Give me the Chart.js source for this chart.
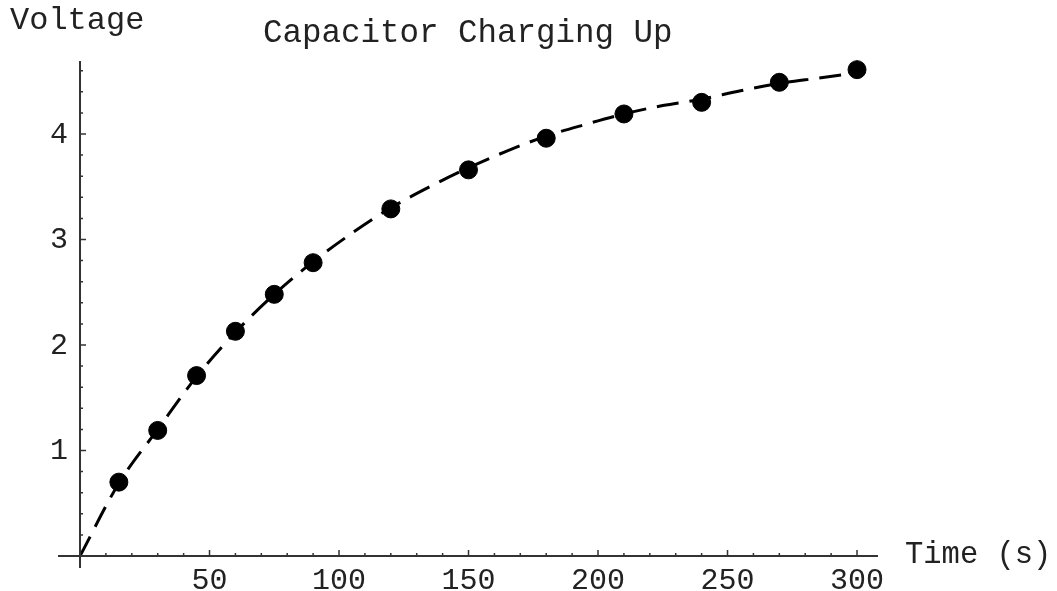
<!DOCTYPE html>
<html>
<head>
<meta charset="utf-8">
<script src="https://cdn.jsdelivr.net/npm/chart.js@4.4.1/dist/chart.umd.min.js"></script>
<style>
  html, body { margin: 0; padding: 0; background: #fff; }
  #wrap { width: 1057px; height: 591px; position: relative; }
</style>
</head>
<body>
<div id="wrap"><canvas id="c"></canvas></div>
<script>
// Measured charging data (s, V)
const times = [15, 30, 45, 60, 75, 90, 120, 150, 180, 210, 240, 270, 300];
const voltages = [0.70, 1.19, 1.71, 2.13, 2.48, 2.78, 3.29, 3.66, 3.96, 4.19, 4.30, 4.49, 4.61];

// Dashed fit curve
const fitTimes = [0, 15, 30, 45, 60, 75, 90, 105, 120, 135, 150, 165, 180, 195, 210, 225, 240, 255, 270, 285, 300];
const fitVoltages = [0, 0.69, 1.20, 1.70, 2.12, 2.48, 2.79, 3.06, 3.30, 3.50, 3.68, 3.84, 3.98, 4.09, 4.19, 4.27, 4.33, 4.41, 4.48, 4.53, 4.58];

const xTicks = [50, 100, 150, 200, 250, 300];
const yTicks = [1, 2, 3, 4];
const xMinorStep = 10;
const yMinorStep = 0.2;

const TITLE = "Capacitor Charging Up";
const X_LABEL = "Time (s)";
const Y_LABEL = "Voltage";

const FONT = '"Liberation Mono", "Courier New", monospace';
const AXIS = "#333";
const TEXT = "#222";

// Mathematica-style axes crossing at the origin, ticks pointing inward.
const originAxes = {
  id: "originAxes",
  afterDatasetsDraw(chart) {
    const { ctx, scales: { x, y } } = chart;
    const x0 = x.getPixelForValue(0);
    const y0 = y.getPixelForValue(0);
    ctx.save();
    ctx.strokeStyle = AXIS;
    ctx.lineWidth = 2;
    ctx.beginPath();
    ctx.moveTo(x.left, y0);
    ctx.lineTo(x.right, y0);
    ctx.moveTo(x0, y.bottom);
    ctx.lineTo(x0, y.top);
    ctx.stroke();

    ctx.lineWidth = 1.5;
    ctx.beginPath();
    for (let v = xMinorStep; v <= x.max; v += xMinorStep) {
      const px = x.getPixelForValue(v);
      const len = v % 50 === 0 ? 6 : 3;
      ctx.moveTo(px, y0);
      ctx.lineTo(px, y0 - len);
    }
    for (let i = 1; i * yMinorStep <= y.max; i++) {
      const v = i * yMinorStep;
      const py = y.getPixelForValue(v);
      const len = i % 5 === 0 ? 6 : 3;
      ctx.moveTo(x0, py);
      ctx.lineTo(x0 + len, py);
    }
    ctx.stroke();

    ctx.fillStyle = TEXT;
    ctx.font = `30px ${FONT}`;
    ctx.textAlign = "center";
    ctx.textBaseline = "alphabetic";
    xTicks.forEach((v) => ctx.fillText(String(v), x.getPixelForValue(v), y0 + 33));
    ctx.textAlign = "right";
    ctx.textBaseline = "middle";
    yTicks.forEach((v) => ctx.fillText(String(v), x0 - 12, y.getPixelForValue(v) + 1));

    ctx.textAlign = "left";
    ctx.textBaseline = "alphabetic";
    ctx.font = `32.5px ${FONT}`;
    ctx.fillText(TITLE, 263, 42);
    ctx.font = `32px ${FONT}`;
    ctx.fillText(Y_LABEL, 10, 29);
    ctx.font = `30.5px ${FONT}`;
    ctx.fillText(X_LABEL, 905, 563);
    ctx.restore();
  },
};

new Chart(document.getElementById("c"), {
  type: "scatter",
  data: {
    datasets: [
      {
        type: "line",
        data: fitTimes.map((t, i) => ({ x: t, y: fitVoltages[i] })),
        borderColor: "#000",
        borderWidth: 3,
        borderDash: [22, 11],
        pointRadius: 0,
        cubicInterpolationMode: "monotone",
        fill: false,
        order: 2,
      },
      {
        data: times.map((t, i) => ({ x: t, y: voltages[i] })),
        backgroundColor: "#000",
        borderColor: "#000",
        pointRadius: 9,
        pointHoverRadius: 9,
        clip: false,
        order: 1,
      },
    ],
  },
  options: {
    responsive: true,
    maintainAspectRatio: false,
    animation: false,
    layout: { padding: { left: 58, right: 179, top: 61, bottom: 23 } },
    plugins: { legend: { display: false }, tooltip: { enabled: false }, title: { display: false } },
    scales: {
      x: { type: "linear", min: -8.5, max: 308.1, display: false },
      y: { type: "linear", min: -0.114, max: 4.692, display: false },
    },
  },
  plugins: [originAxes],
});
</script>
</body>
</html>
